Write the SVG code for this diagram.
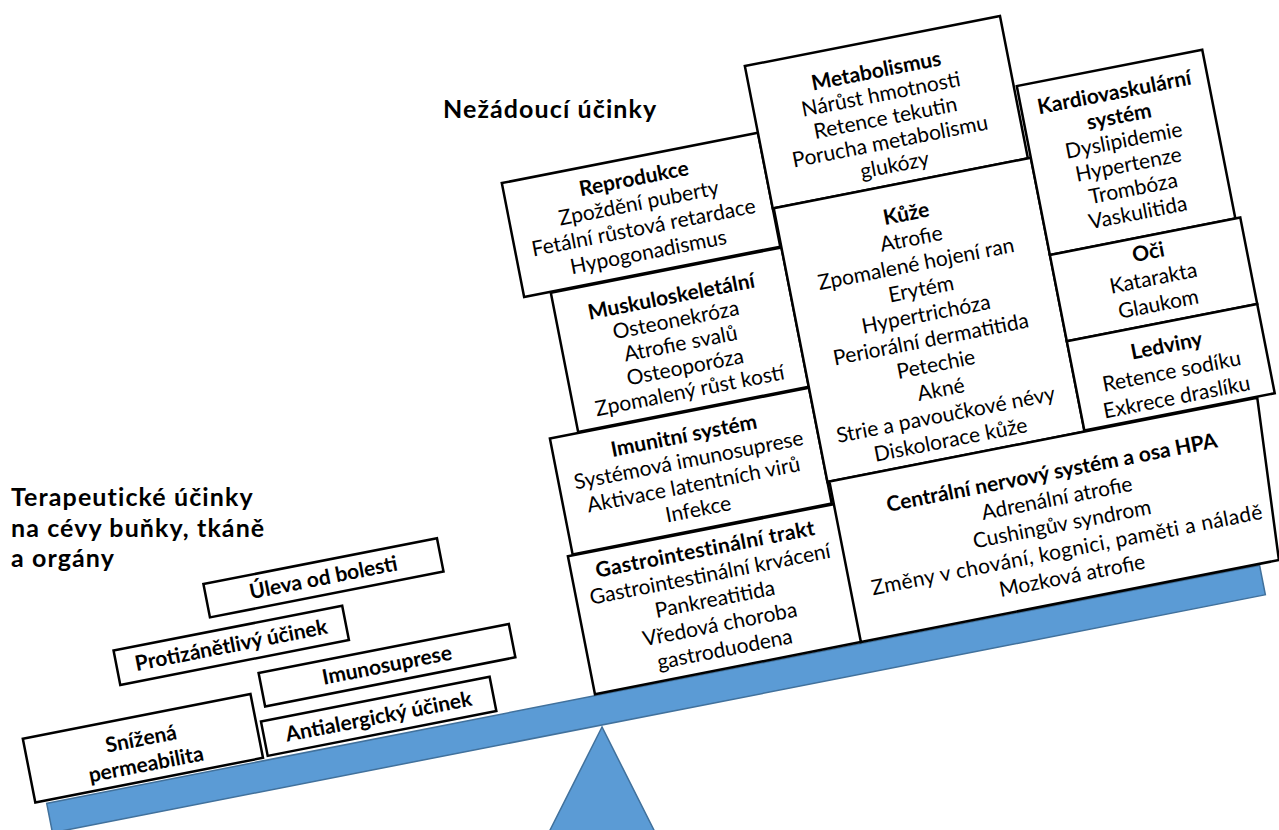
<svg xmlns="http://www.w3.org/2000/svg" width="1279" height="830" viewBox="0 0 1279 830">
<style>
.box{fill:#fff;stroke:#000;stroke-width:2.5}
.t{font-family:Lato,"Open Sans","Liberation Sans",sans-serif;font-size:21px;fill:#000;text-anchor:middle}
.b{font-weight:bold}
.title{font-family:Lato,"Open Sans","Liberation Sans",sans-serif;font-size:25px;letter-spacing:1.1px;font-weight:bold;fill:#000}
.beam{fill:#5B9BD5;stroke:#41719C;stroke-width:1.5}
</style>
<rect width="1279" height="830" fill="#fff"/>
<g id="titles">
<text class="title" x="443" y="118">Nežádoucí účinky</text>
<text class="title" x="11" y="506">Terapeutické účinky</text>
<text class="title" x="11" y="537">na cévy buňky, tkáně</text>
<text class="title" x="11" y="567">a orgány</text>
</g>
<g id="fulcrum"><polygon class="beam" points="602,727 540,850 664,850"/></g>
<g id="scale" transform="translate(46.7,803.3) rotate(-11.1)">
<g id="beam"><rect class="beam" x="0" y="0" width="1236" height="30"/></g>
<g id="snizena"><rect class="box" x="-11" y="-68" width="232" height="65"/>
<text class="t b" x="105"><tspan x="105" y="-38">Snížená</tspan><tspan x="105" y="-12">permeabilita</tspan></text></g>
<g id="antialergicky"><rect class="box" x="226" y="-39" width="233" height="35"/>
<text class="t b" x="342.5" y="-14">Antialergický účinek</text></g>
<g id="imunosuprese"><rect class="box" x="233" y="-87" width="255" height="34"/>
<text class="t b" x="360.5" y="-63">Imunosuprese</text></g>
<g id="protizanetlivy"><rect class="box" x="95" y="-137" width="233" height="35"/>
<text class="t b" x="211.5" y="-112.5">Protizánětlivý účinek</text></g>
<g id="uleva"><rect class="box" x="196" y="-185" width="238" height="34"/>
<text class="t b" x="315" y="-161">Úleva od bolesti</text></g>
<g id="reprodukce"><rect class="box" x="566" y="-521" width="261" height="116"/>
<text class="t" x="696.5"><tspan class="b" x="696.5" y="-493">Reprodukce</tspan><tspan x="696.5" y="-468">Zpoždění puberty</tspan><tspan x="696.5" y="-443">Fetální růstová retardace</tspan><tspan x="696.5" y="-418">Hypogonadismus</tspan></text></g>
<g id="muskuloskeletalni"><rect class="box" x="593" y="-404" width="235" height="142"/>
<text class="t" x="710.5"><tspan class="b" x="710.5" y="-370">Muskuloskeletální</tspan><tspan x="710.5" y="-346">Osteonekróza</tspan><tspan x="710.5" y="-322">Atrofie svalů</tspan><tspan x="710.5" y="-298">Osteoporóza</tspan><tspan x="710.5" y="-274">Zpomalený růst kostí</tspan></text></g>
<g id="imunitni"><rect class="box" x="564" y="-261" width="264" height="118"/>
<text class="t" x="696"><tspan class="b" x="696" y="-231">Imunitní systém</tspan><tspan x="696" y="-206">Systémová imunosuprese</tspan><tspan x="696" y="-181">Aktivace latentních virů</tspan><tspan x="696" y="-156">Infekce</tspan></text></g>
<g id="gastro"><rect class="box" x="559" y="-142" width="272" height="140.5"/>
<text class="t" x="695"><tspan class="b" x="695" y="-115.5" letter-spacing="0.3">Gastrointestinální trakt</tspan><tspan x="695" y="-90">Gastrointestinální krvácení</tspan><tspan x="695" y="-64.5">Pankreatitida</tspan><tspan x="695" y="-39">Vředová choroba</tspan><tspan x="695" y="-13.5">gastroduodena</tspan></text></g>
<g id="metabolismus"><rect class="box" x="827" y="-589" width="260" height="145"/>
<text class="t" x="955"><tspan class="b" x="955" y="-552">Metabolismus</tspan><tspan x="955" y="-528">Nárůst hmotnosti</tspan><tspan x="955" y="-504">Retence tekutin</tspan><tspan x="955" y="-480">Porucha metabolismu</tspan><tspan x="955" y="-456">glukózy</tspan></text></g>
<g id="kuze"><rect class="box" x="828" y="-444" width="262" height="279"/>
<text class="t" x="957"><tspan class="b" x="957" y="-406">Kůže</tspan><tspan x="957" y="-380.4">Atrofie</tspan><tspan x="957" y="-354.8">Zpomalené hojení ran</tspan><tspan x="957" y="-329.2">Erytém</tspan><tspan x="957" y="-303.6">Hypertrichóza</tspan><tspan x="957" y="-278">Periorální dermatitida</tspan><tspan x="957" y="-252.4">Petechie</tspan><tspan x="957" y="-226.8">Akné</tspan><tspan x="957" y="-201.2">Strie a pavoučkové névy</tspan><tspan x="957" y="-175.6">Diskolorace kůže</tspan></text></g>
<g id="cns"><polygon class="box" points="830,-165 1266,-165 1256,-1.5 830,-1.5"/>
<text class="t" x="1050"><tspan class="b" x="1050" y="-124">Centrální nervový systém a osa HPA</tspan><tspan x="1050" y="-97.7">Adrenální atrofie</tspan><tspan x="1050" y="-71.4">Cushingův syndrom</tspan><tspan x="1050" y="-45.1" letter-spacing="0.35">Změny v chování, kognici, paměti a náladě</tspan><tspan x="1050" y="-18.8">Mozková atrofie</tspan></text></g>
<g id="kardio"><rect class="box" x="1090" y="-517" width="189" height="172"/>
<text class="t" x="1184.5"><tspan class="b" x="1184.5" y="-485">Kardiovaskulární</tspan><tspan class="b" x="1184.5" y="-460.5">systém</tspan><tspan x="1184.5" y="-436">Dyslipidemie</tspan><tspan x="1184.5" y="-411.5">Hypertenze</tspan><tspan x="1184.5" y="-387">Trombóza</tspan><tspan x="1184.5" y="-362.5">Vaskulitida</tspan></text></g>
<g id="oci"><rect class="box" x="1090" y="-345" width="194" height="88"/>
<text class="t" x="1187"><tspan class="b" x="1187" y="-321.6">Oči</tspan><tspan x="1187" y="-295.2">Katarakta</tspan><tspan x="1187" y="-268.8">Glaukom</tspan></text></g>
<g id="ledviny"><rect class="box" x="1090" y="-257" width="194" height="91"/>
<text class="t" x="1187"><tspan class="b" x="1187" y="-226.5">Ledviny</tspan><tspan x="1187" y="-200.2">Retence sodíku</tspan><tspan x="1187" y="-173.9">Exkrece draslíku</tspan></text></g>
</g>
</svg>
